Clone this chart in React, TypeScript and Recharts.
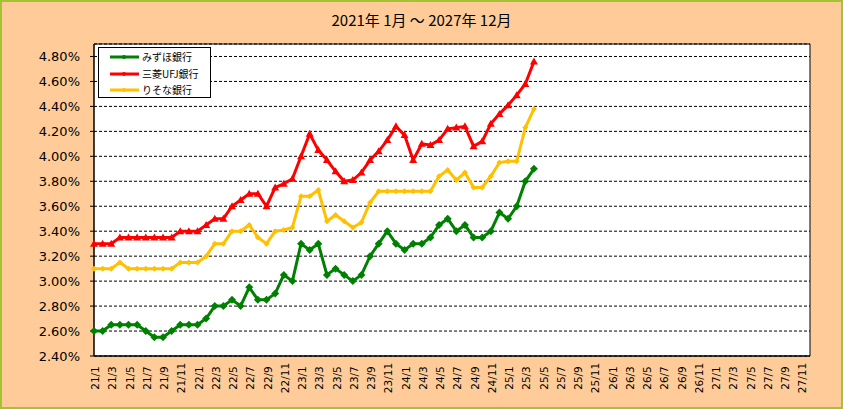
import {
  LineChart,
  Line,
  XAxis,
  YAxis,
  CartesianGrid,
  ReferenceArea,
} from "recharts";

// categories: 2021/1 .. 2027/12, labels "yy/m"
const years = [21, 22, 23, 24, 25, 26, 27];
const months: string[] = years.flatMap((y) =>
  Array.from({ length: 12 }, (_, i) => `${y}/${i + 1}`)
);

// 21/1 .. 25/4 (%)
const mizuho = [
  2.6, 2.6, 2.65, 2.65, 2.65, 2.65, 2.6, 2.55, 2.55, 2.6, 2.65, 2.65,
  2.65, 2.7, 2.8, 2.8, 2.85, 2.8, 2.95, 2.85, 2.85, 2.9, 3.05, 3.0,
  3.3, 3.25, 3.3, 3.05, 3.1, 3.05, 3.0, 3.05, 3.2, 3.3, 3.4, 3.3,
  3.25, 3.3, 3.3, 3.35, 3.45, 3.5, 3.4, 3.45, 3.35, 3.35, 3.4, 3.55,
  3.5, 3.6, 3.8, 3.9,
];
const mufg = [
  3.3, 3.3, 3.3, 3.35, 3.35, 3.35, 3.35, 3.35, 3.35, 3.35, 3.4, 3.4,
  3.4, 3.45, 3.5, 3.5, 3.6, 3.65, 3.7, 3.7, 3.6, 3.75, 3.78, 3.82,
  4.0, 4.18, 4.05, 3.97, 3.88, 3.8, 3.81, 3.87, 3.97, 4.04, 4.13, 4.24,
  4.17, 3.97, 4.1, 4.09, 4.13, 4.22, 4.23, 4.24, 4.08, 4.12, 4.26, 4.34,
  4.41, 4.49, 4.58, 4.76,
];
const resona = [
  3.1, 3.1, 3.1, 3.15, 3.1, 3.1, 3.1, 3.1, 3.1, 3.1, 3.15, 3.15,
  3.15, 3.2, 3.3, 3.3, 3.4, 3.4, 3.45, 3.35, 3.3, 3.4, 3.41, 3.43,
  3.68, 3.68, 3.73, 3.48, 3.53, 3.48, 3.43, 3.47, 3.63, 3.72, 3.72, 3.72,
  3.72, 3.72, 3.72, 3.72, 3.84, 3.89, 3.81, 3.87, 3.75, 3.75, 3.84, 3.95,
  3.96, 3.96, 4.23, 4.38,
];
const yTicks = [2.4, 2.6, 2.8, 3.0, 3.2, 3.4, 3.6, 3.8, 4.0, 4.2, 4.4, 4.6, 4.8];

const seriesNames = ["みずほ銀行", "三菱UFJ銀行", "りそな銀行"];
const seriesColors = ["#008000", "#ff0000", "#ffc000"];

const data = months.map((m, i) => ({
  month: m,
  mizuho: mizuho[i] ?? null,
  mufg: mufg[i] ?? null,
  resona: resona[i] ?? null,
}));

const Diamond = (props: any) => {
  const { cx, cy, index, r, color } = props;
  if (cx == null || cy == null) return <g key={`d-${index}`} />;
  return (
    <path
      key={`d-${index}`}
      d={`M${cx},${cy - r} L${cx + r},${cy} L${cx},${cy + r} L${cx - r},${cy} Z`}
      fill={color}
    />
  );
};

const Triangle = (props: any) => {
  const { cx, cy, index, color } = props;
  if (cx == null || cy == null) return <g key={`t-${index}`} />;
  return (
    <path
      key={`t-${index}`}
      d={`M${cx},${cy - 4} L${cx + 4},${cy + 3} L${cx - 4},${cy + 3} Z`}
      fill={color}
    />
  );
};

const XTick = (props: any) => {
  const { x, payload } = props;
  return (
    <text
      transform={`translate(${x + 1},378) rotate(-90)`}
      textAnchor="middle"
      dominantBaseline="central"
      fontSize={10.5}
      fontFamily="DejaVu Sans"
      fill="#000"
    >
      {payload.value}
    </text>
  );
};

// legend drawn as a box in the plot's top-left corner
const LegendBox = () => (
  <div
    style={{
      position: "absolute",
      left: 98,
      top: 47,
      width: 113,
      height: 51,
      background: "#fff",
      border: "1px solid #000",
      boxSizing: "border-box",
      paddingTop: 1,
    }}
  >
    {seriesNames.map((name, i) => (
      <div
        key={name}
        style={{ display: "flex", alignItems: "center", height: 16.5 }}
      >
        <svg width={43} height={10}>
          <line x1={11} y1={5} x2={40} y2={5} stroke={seriesColors[i]} strokeWidth={3} />
          <circle cx={25} cy={5} r={2} fill={seriesColors[i]} />
        </svg>
        <span
          style={{
            fontSize: 10,
            fontFamily: "Noto Sans CJK JP",
            color: "#000",
            lineHeight: "10px",
          }}
        >
          {name}
        </span>
      </div>
    ))}
  </div>
);

export default function App() {
  return (
    <div
      style={{
        position: "absolute",
        left: 0,
        top: 0,
        width: 843,
        height: 409,
        background: "#ffcc99",
      }}
    >
      <div
        style={{
          position: "absolute",
          left: 0,
          top: 9,
          width: 843,
          textAlign: "center",
          fontSize: 15,
          fontFamily: "Noto Sans CJK JP",
          color: "#000",
        }}
      >
        2021年 1月 ～ 2027年 12月
      </div>
      <LineChart
        width={843}
        height={409}
        data={data}
        margin={{ top: 44, right: 33, left: 0, bottom: 0 }}
        style={{ position: "absolute", left: 0, top: 0 }}
      >
        <CartesianGrid
          horizontal
          vertical={false}
          stroke="#000"
          strokeDasharray="3 2"
          fill="#fff"
          fillOpacity={1}
        />
        <XAxis
          dataKey="month"
          interval={1}
          height={53}
          tick={<XTick />}
          tickLine={false}
          axisLine={{ stroke: "#000" }}
        />
        <YAxis
          width={94}
          domain={[2.4, 4.9]}
          ticks={yTicks}
          interval={0}
          tickFormatter={(v: number) => `${v.toFixed(2)}%`}
          tick={{ fontSize: 13, fontFamily: "DejaVu Sans", fill: "#000" }}
          tickLine={{ stroke: "#000" }}
          tickSize={4}
          tickMargin={10}
          axisLine={{ stroke: "#000" }}
        />
        <ReferenceArea
          y1={2.4}
          y2={4.9}
          fill="none"
          fillOpacity={0}
          stroke="#000"
          strokeWidth={1}
        />
        <Line
          dataKey="mizuho"
          name={seriesNames[0]}
          stroke={seriesColors[0]}
          strokeWidth={3}
          dot={(p: any) => <Diamond {...p} r={4} color={seriesColors[0]} />}
          activeDot={false}
          isAnimationActive={false}
        />
        <Line
          dataKey="mufg"
          name={seriesNames[1]}
          stroke={seriesColors[1]}
          strokeWidth={3}
          dot={(p: any) => <Triangle {...p} color={seriesColors[1]} />}
          activeDot={false}
          isAnimationActive={false}
        />
        <Line
          dataKey="resona"
          name={seriesNames[2]}
          stroke={seriesColors[2]}
          strokeWidth={3}
          dot={(p: any) => <Diamond {...p} r={3} color={seriesColors[2]} />}
          activeDot={false}
          isAnimationActive={false}
        />
      </LineChart>
      <LegendBox />
      <div
        style={{
          position: "absolute",
          left: 0,
          top: 0,
          width: 843,
          height: 409,
          boxSizing: "border-box",
          border: "2px solid #a4c232",
          pointerEvents: "none",
        }}
      />
    </div>
  );
}
